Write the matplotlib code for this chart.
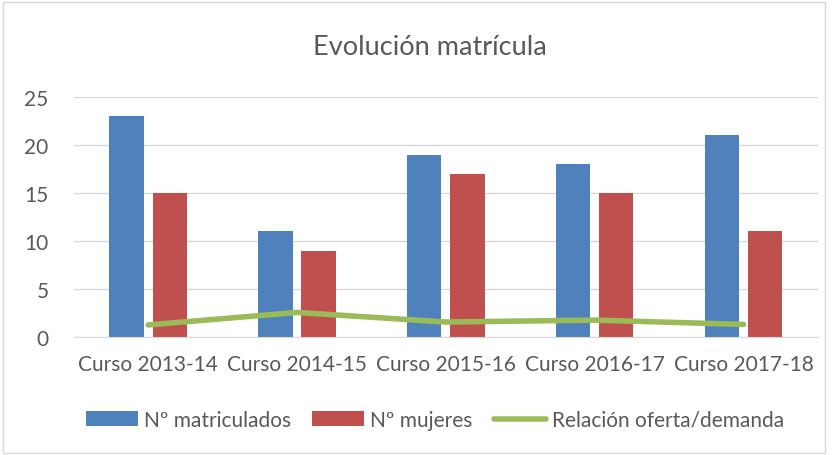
import matplotlib.pyplot as plt
from matplotlib.patches import Rectangle
import numpy as np

cursos = ["Curso 2013-14", "Curso 2014-15", "Curso 2015-16", "Curso 2016-17", "Curso 2017-18"]
matriculados = [23, 11, 19, 18, 21]
mujeres = [15, 9, 17, 15, 11]
relacion = [1.25, 2.55, 1.55, 1.75, 1.3]

plt.rcParams['font.family'] = ['Lato', 'DejaVu Sans']
gris = '#595959'

fig = plt.figure(figsize=(8.38, 4.56), dpi=100)
ax = fig.add_axes([0.088, 0.259, 0.888, 0.526])

x = np.arange(len(cursos))
ancho = 0.23
b1 = ax.bar(x - 0.145, matriculados, ancho, color='#4F81BD', label='Nº matriculados', zorder=2)
b2 = ax.bar(x + 0.145, mujeres, ancho, color='#C0504D', label='Nº mujeres', zorder=2)
l1, = ax.plot(x, relacion, color='#9BBB59', lw=4, solid_capstyle='round',
              label='Relación oferta/demanda', zorder=3)

ax.set_xlim(-0.5, 4.5)
ax.set_ylim(0, 25)
ax.set_yticks([0, 5, 10, 15, 20, 25])
ax.set_xticks(x)
ax.set_xticklabels(cursos)
ax.grid(axis='y', color='#D9D9D9', lw=1, zorder=0)
for s in ['top', 'right', 'left']:
    ax.spines[s].set_visible(False)
ax.spines['bottom'].set_color('#D9D9D9')
ax.tick_params(axis='both', length=0, colors=gris, labelsize=15)
ax.tick_params(axis='x', pad=12)
ax.tick_params(axis='y', pad=18)

fig.text(0.513, 0.895, 'Evolución matrícula', ha='center', va='center', fontsize=19.5, color=gris)

fig.legend([b1, b2, l1], ['Nº matriculados', 'Nº mujeres', 'Relación oferta/demanda'],
           loc='center', bbox_to_anchor=(0.519, 0.077), ncol=3, frameon=False,
           fontsize=15, labelcolor=gris, handlelength=2.5, handleheight=0.7,
           columnspacing=1.0, handletextpad=0.3)

fig.patches.append(Rectangle((0.004, 0.004), 0.981, 0.99, transform=fig.transFigure,
                             fill=False, edgecolor='#D9D9D9', lw=1))

fig.savefig('out.png')
